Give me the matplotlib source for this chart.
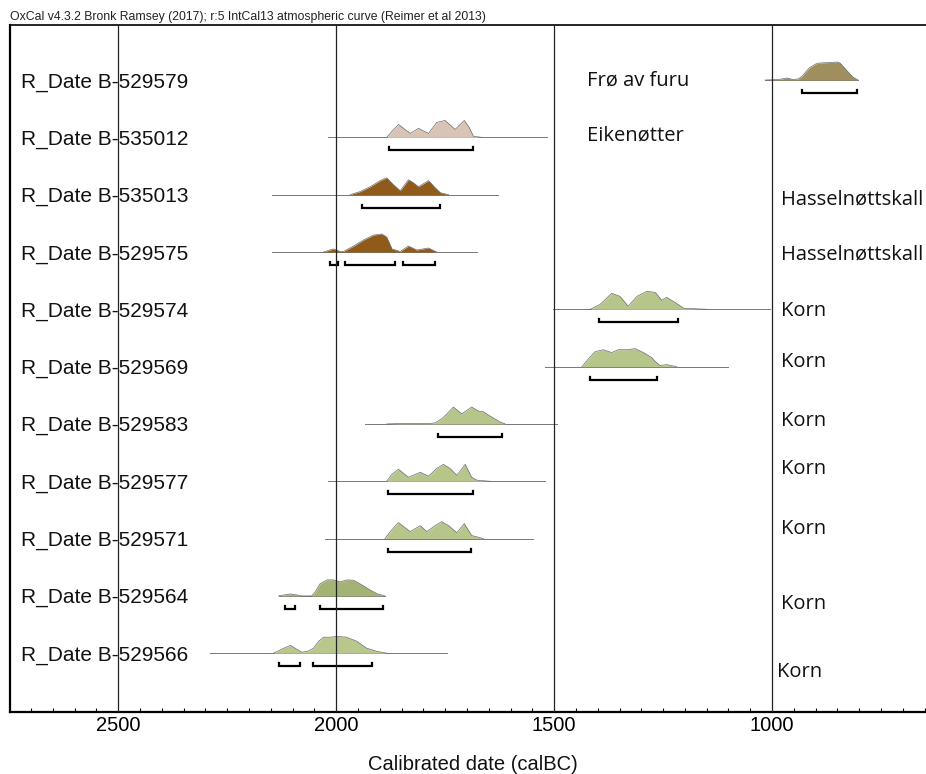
import numpy as np
import matplotlib
matplotlib.use("Agg")
import matplotlib.pyplot as plt
from matplotlib.ticker import MultipleLocator

# sample names (top to bottom) and material notes on the right
samples = ["R_Date B-529579", "R_Date B-535012", "R_Date B-535013", "R_Date B-529575",
           "R_Date B-529574", "R_Date B-529569", "R_Date B-529583", "R_Date B-529577",
           "R_Date B-529571", "R_Date B-529564", "R_Date B-529566"]
materials = ["Frø av furu", "Eikenøtter", "Hasselnøttskall", "Hasselnøttskall",
             "Korn", "Korn", "Korn", "Korn", "Korn", "Korn", "Korn"]
mat_x = [1424, 1424, 980, 980, 980, 980, 980, 980, 980, 980, 988]
mat_y = [0.09, 1.06, 2.18, 3.14, 4.12, 5.0, 6.03, 6.88, 7.92, 9.23, 10.41]

# calibrated probability curves (calBC, relative probability 0-1)
yr_529579 = [1016, 985, 966, 952, 940, 931, 915, 900, 894, 870, 850, 844, 830, 815, 803]
p_529579 = [0, .03, .11, .03, .06, .22, .67, .89, .94, .97, 1.0, .94, .56, .17, 0]
yr_535012 = [1884, 1872, 1857, 1830, 1811, 1788, 1769, 1750, 1727, 1706, 1695, 1685, 1666]
p_535012 = [0, .33, .72, .22, .5, .22, .83, .94, .44, .94, .56, .06, 0]
yr_535013 = [1968, 1945, 1922, 1899, 1884, 1869, 1853, 1834, 1823, 1811, 1788, 1773, 1761, 1742]
p_535013 = [0, .17, .44, .78, .94, .56, .22, .83, .67, .44, .78, .39, .11, 0]
yr_529575 = [2029, 2006, 1991, 1983, 1960, 1937, 1914, 1895, 1884, 1872, 1853, 1834, 1815, 1788, 1769]
p_529575 = [0, .17, .03, .03, .33, .67, .94, 1.0, .83, .17, .03, .33, .11, .22, 0]
yr_529574 = [1417, 1394, 1368, 1349, 1330, 1310, 1287, 1268, 1253, 1242, 1219, 1203, 1150]
p_529574 = [0, .28, .89, .72, .17, .72, 1.0, .94, .5, .67, .33, .06, 0]
yr_529569 = [1436, 1421, 1406, 1387, 1368, 1353, 1333, 1314, 1295, 1276, 1268, 1257, 1242, 1219]
p_529569 = [0, .44, .83, .94, .78, .94, .94, 1.0, .78, .5, .28, .06, .11, 0]
yr_529583 = [1884, 1846, 1807, 1784, 1773, 1758, 1746, 1731, 1712, 1689, 1674, 1662, 1647, 1624, 1612]
p_529583 = [0, .03, .02, .03, .06, .28, .56, .94, .56, .94, .72, .67, .44, .11, 0]
yr_529577 = [1884, 1872, 1857, 1834, 1807, 1788, 1769, 1754, 1739, 1723, 1704, 1689, 1677, 1647]
p_529577 = [0, .39, .67, .22, .5, .28, .72, .94, .72, .33, .94, .22, .06, 0]
yr_529571 = [1888, 1872, 1857, 1830, 1807, 1792, 1773, 1758, 1742, 1723, 1706, 1689, 1662]
p_529571 = [0, .5, .89, .39, .72, .39, .72, .94, .72, .33, .83, .17, 0]
yr_529564 = [2132, 2118, 2105, 2092, 2079, 2056, 2048, 2037, 2021, 2006, 1991, 1975, 1960, 1945, 1922, 1905, 1888]
p_529564 = [0, .06, .11, .06, 0, 0, .22, .67, .89, .89, .78, .89, .87, .67, .33, .11, 0]
yr_529566 = [2144, 2125, 2105, 2090, 2079, 2065, 2052, 2040, 2029, 2013, 1999, 1976, 1953, 1930, 1907, 1884]
p_529566 = [0, .22, .44, .22, .06, .11, .28, .67, .89, .89, .94, .89, .67, .28, .11, 0]

# extent of the thin prior line under each curve
spans = [(1016, 803), (2018, 1516), (2147, 1628), (2147, 1677), (1502, 1005), (1521, 1100),
         (1933, 1494), (2018, 1521), (2025, 1548), (2132, 1888), (2289, 1746)]

# 95.4% ranges
ranges = [[(931, 806)], [(1878, 1687)], [(1941, 1761)],
          [(2014, 1995), (1979, 1866), (1847, 1773)],
          [(1396, 1215)], [(1417, 1263)], [(1767, 1620)], [(1880, 1687)], [(1880, 1690)],
          [(2117, 2094), (2038, 1892)], [(2132, 2083), (2054, 1918)]]

curves = [(yr_529579, p_529579), (yr_535012, p_535012), (yr_535013, p_535013),
          (yr_529575, p_529575), (yr_529574, p_529574), (yr_529569, p_529569),
          (yr_529583, p_529583), (yr_529577, p_529577), (yr_529571, p_529571),
          (yr_529564, p_529564), (yr_529566, p_529566)]

colors = ["#a08e5e", "#d8c3b4", "#8f5a1a", "#8f5a1a", "#b6c58a", "#b6c58a",
          "#b6c58a", "#b6c58a", "#b6c58a", "#a2b374", "#b8c88c"]

PEAK = 0.314   # height of a probability of 1 in row units

fig = plt.figure(figsize=(9.26, 7.74), dpi=100)
ax = fig.add_axes([10 / 926, 62.3 / 774, 916 / 926, 686.7 / 774])

for i, (yr, p) in enumerate(curves):
    yr = np.array(yr)
    top = i - np.array(p) * PEAK
    ax.plot(spans[i], [i, i], color="#777777", lw=0.7, zorder=1)
    ax.fill_between(yr, i, top, color=colors[i], lw=0, zorder=2)
    ax.plot(yr, top, color="#6a6a6a", lw=0.5, zorder=2)
    yb = i + 0.227
    for a, b in ranges[i]:
        ax.plot([a, a, b, b], [yb - 0.05, yb, yb, yb - 0.05], color="black", lw=1.6,
                solid_joinstyle="miter", zorder=3)
    ax.text(2722, i + 0.127, samples[i], fontsize=15, family="Liberation Sans",
            va="baseline", ha="left", color="#111111")
    ax.text(mat_x[i], mat_y[i], materials[i], fontsize=14.5, family="Open Sans",
            va="baseline", ha="left", color="#111111")

for x in [2500, 2000, 1500, 1000]:
    ax.axvline(x, color="#222222", lw=0.9, zorder=4)

ax.set_xlim(2748, 647)
ax.set_ylim(11.02, -0.96)
ax.set_yticks([])
ax.xaxis.set_major_locator(MultipleLocator(500))
ax.xaxis.set_minor_locator(MultipleLocator(50))
ax.tick_params(axis="x", which="major", length=0, pad=3, labelsize=14.5)
ax.tick_params(axis="x", which="minor", direction="in", length=3, width=0.8)
for lab in ax.get_xticklabels():
    lab.set_family("Liberation Sans")

ax.spines["right"].set_visible(False)
ax.spines["left"].set_linewidth(1.6)
ax.spines["bottom"].set_linewidth(1.6)
ax.spines["top"].set_linewidth(1.2)

fig.text(10 / 926, 1 - 20 / 774, "OxCal v4.3.2 Bronk Ramsey (2017); r:5 IntCal13 atmospheric curve (Reimer et al 2013)",
         fontsize=8.8, family="Liberation Sans", va="baseline", ha="left", color="#222222")
fig.text(473 / 926, 1 - 770 / 774, "Calibrated date (calBC)", fontsize=14.5,
         family="Liberation Sans", va="baseline", ha="center", color="#111111")

fig.savefig("out.png", dpi=100)
